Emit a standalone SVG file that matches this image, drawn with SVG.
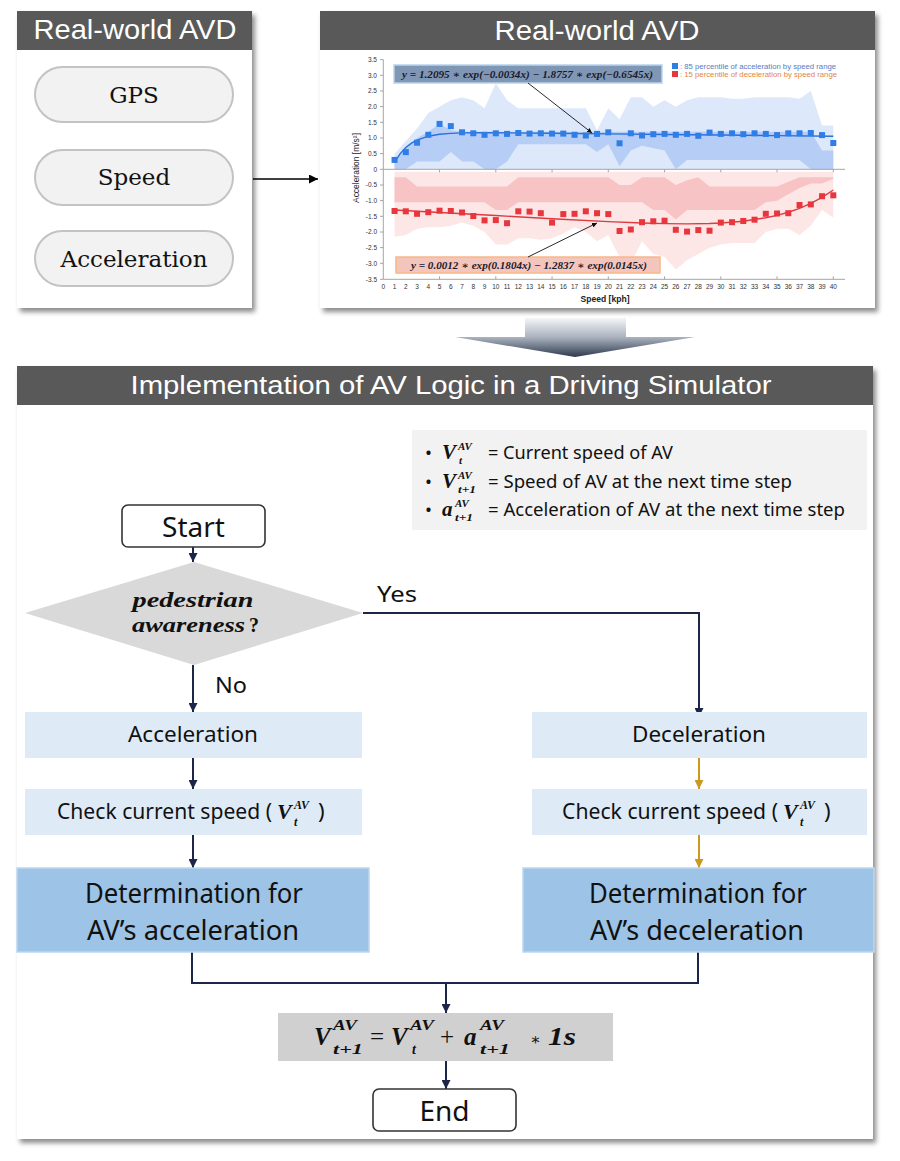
<svg xmlns="http://www.w3.org/2000/svg" width="900" height="1161" viewBox="0 0 900 1161">
<defs>
<filter id="sh" x="-5%" y="-5%" width="112%" height="115%"><feDropShadow dx="3" dy="4" stdDeviation="2.5" flood-color="#000" flood-opacity="0.45"/></filter>
<linearGradient id="bigArrow" x1="0" y1="318" x2="0" y2="357" gradientUnits="userSpaceOnUse"><stop offset="0" stop-color="#f4f5f7"/><stop offset="0.5" stop-color="#a9b1bd"/><stop offset="1" stop-color="#2d394d"/></linearGradient>
<marker id="an" viewBox="0 0 9 9" refX="9" refY="4.5" markerWidth="9" markerHeight="9" orient="auto" markerUnits="userSpaceOnUse"><path d="M0,0 L9,4.5 L0,9 Z" fill="#1c2648"/></marker>
<marker id="ay" viewBox="0 0 9 9" refX="9" refY="4.5" markerWidth="9" markerHeight="9" orient="auto" markerUnits="userSpaceOnUse"><path d="M0,0 L9,4.5 L0,9 Z" fill="#c99a1e"/></marker>
<marker id="ak" viewBox="0 0 9 9" refX="9" refY="4.5" markerWidth="9" markerHeight="9" orient="auto" markerUnits="userSpaceOnUse"><path d="M0,0 L9,4.5 L0,9 Z" fill="#000"/></marker>
<marker id="as" viewBox="0 0 6 6" refX="6" refY="3" markerWidth="5" markerHeight="5" orient="auto" markerUnits="userSpaceOnUse"><path d="M0,0 L6,3 L0,6 Z" fill="#111"/></marker>
<rect id="bq" x="-3" y="-3" width="6" height="6" fill="#2f7de6"/>
<rect id="rq" x="-3" y="-3" width="6" height="6" fill="#e8363f"/>
<style>
.hdr{fill:#595959}
.body{fill:#fff}
.hdrt{font-family:"Liberation Sans","Noto Sans",sans-serif;fill:#fff;font-size:28px;text-anchor:middle}
.pill{fill:#f2f2f2;stroke:#c3c3c3;stroke-width:2}
.pillt{font-family:"DejaVu Serif","Liberation Serif",serif;font-size:23px;fill:#111;text-anchor:middle}
.conn{stroke:#1c2648;stroke-width:2;fill:none}
.conny{stroke:#c99a1e;stroke-width:2;fill:none}
.lb{fill:#deebf7}
.db{fill:#9dc3e6;stroke:#bdd7ee;stroke-width:1.5}
.ft{font-family:"Noto Sans","Open Sans",sans-serif;font-size:22px;fill:#111}
.fb{font-family:"Noto Sans","Open Sans",sans-serif;font-size:27px;fill:#111;text-anchor:middle}
.mi{font-family:"Liberation Serif","DejaVu Serif",serif;font-weight:bold;font-style:italic;fill:#111}
.term{fill:#fff;stroke:#333;stroke-width:1.6}
.ax{stroke:#a6a6a6;stroke-width:1;fill:none}
.tkx{font-family:"Liberation Sans",sans-serif;font-size:6.5px;fill:#333;text-anchor:middle}
.tky{font-family:"Liberation Sans",sans-serif;font-size:6.5px;fill:#333;text-anchor:end}
.eq{font-family:"Liberation Serif","DejaVu Serif",serif;font-weight:bold;font-style:italic;font-size:10px;fill:#1a1a2a}
</style>
</defs>

<rect width="900" height="1161" fill="#fff"/>

<!-- Left panel -->
<g id="panel-left">
<rect x="17" y="11" width="235" height="297" class="body" filter="url(#sh)"/>
<rect x="17" y="11" width="235" height="39" class="hdr"/>
<text x="135" y="39" class="hdrt" textLength="203" lengthAdjust="spacingAndGlyphs">Real-world AVD</text>
</g>
<g id="node-gps"><rect x="35" y="67" width="198" height="55" rx="27.5" class="pill"/><text x="134" y="103" class="pillt">GPS</text></g>
<g id="node-speed"><rect x="35" y="150" width="198" height="55" rx="27.5" class="pill"/><text x="134" y="185" class="pillt">Speed</text></g>
<g id="node-acc"><rect x="35" y="231" width="198" height="55" rx="27.5" class="pill"/><text x="134" y="267" class="pillt">Acceleration</text></g>

<!-- Right panel with chart -->
<g id="panel-chart">
<rect x="320" y="11" width="555" height="297" class="body" filter="url(#sh)"/>
<rect x="320" y="11" width="555" height="39" class="hdr"/>
<text x="597" y="40" class="hdrt" textLength="205" lengthAdjust="spacingAndGlyphs">Real-world AVD</text>

<g transform="matrix(11.25 0 0 -31.33 383.3 169.3)">
<polygon fill="#dde9fb" points="1,0.5 2,0.9 3,1.3 4,1.8 5,2.0 6,2.2 7,2.3 8,2.2 9,1.95 10,2.75 11,2.2 12,1.95 18,1.95 19,1.25 20,1.95 21,1.6 22,2.3 23,2.3 24,2.0 25,2.2 26,2.0 27,2.2 28,2.3 30,2.3 31,2.25 32,2.25 33,2.3 36,2.3 37,2.25 38,2.5 39,1.4 40,1.4 40,0 1,0"/>
<polygon fill="#b6cef6" points="1,0.3 2,0.7 3,1.0 4,1.2 5,1.45 6,1.25 7,1.2 38,1.2 39,0.6 40,0.6 40,0 39,0 38,0 37,0.3 36,0.3 27,0.3 26,0 25,0.6 23,0.75 22,0.6 21,0.1 20,0.8 19,0.55 18,0.8 12,0.8 11,0.25 10,0 9,0 8,0.25 7,0.25 6,0.55 5,0.25 3,0.25 2,0 1,0"/>
<polygon fill="#fde6e6" points="1,-0.08 40,-0.08 40,-1.55 39,-1.3 38,-1.8 37,-2.1 36,-1.9 35,-1.9 34,-2.0 33,-2.35 31,-2.35 30,-2.4 29,-2.5 28,-2.7 27,-2.9 26,-3.2 25,-2.8 24,-2.7 23,-2.3 22,-3.0 21,-2.8 20,-2.1 19,-2.3 18,-2.0 17,-1.85 16,-2.05 15,-2.2 14,-2.25 13,-2.2 12,-2.2 11,-2.4 10,-2.4 9,-2.0 8,-1.8 7,-1.7 6,-1.8 5,-1.85 4,-1.85 3,-1.9 2,-2.1 1,-2.15"/>
<polygon fill="#f7c3c4" points="1,-0.25 2,-0.25 3,-0.55 11,-0.55 12,-0.25 20,-0.25 21,-0.5 22,-0.5 23,-0.25 25,-0.25 26,-0.5 27,-0.35 28,-0.25 29,-0.55 35,-0.55 36,-0.4 37,-0.25 40,-0.25 40,-0.3 39,-0.45 38,-0.45 37,-0.6 36,-0.8 35,-1.0 34,-1.05 33,-1.3 27,-1.3 26,-1.6 25,-1.3 24,-1.3 23,-1.05 12,-1.05 11,-1.3 10,-1.3 9,-1.05 1,-1.05"/>
<polyline fill="none" stroke="#2a6fdc" stroke-width="1.4" vector-effect="non-scaling-stroke" points="1,0.2306 1.5,0.5006 2,0.6947 2.5,0.834 3,0.9339 4,1.0563 5,1.118 6,1.1481 7,1.1618 8,1.1671 10,1.1664 15,1.1494 20,1.1308 25,1.1115 30,1.0931 35,1.0749 40,1.057"/>
<polyline fill="none" stroke="#df3a3f" stroke-width="1.4" vector-effect="non-scaling-stroke" points="1,-1.301 5,-1.3772 10,-1.4767 15,-1.5775 20,-1.6712 23,-1.7158 25,-1.7353 27,-1.7424 29,-1.7302 30,-1.7142 32,-1.656 34,-1.5483 35,-1.4694 36,-1.3699 37,-1.2446 38,-1.0889 39,-0.8964 40,-0.66"/>
</g>

<path class="ax" d="M383.3,59.6 V279.3 H845 M383.3,169.3 H845"/>
<path class="ax" d="M380,59.6 h3.3 M380,75.3 h3.3 M380,91 h3.3 M380,106.6 h3.3 M380,122.3 h3.3 M380,138 h3.3 M380,153.6 h3.3 M380,169.3 h3.3 M380,185 h3.3 M380,200.6 h3.3 M380,216.3 h3.3 M380,232 h3.3 M380,247.6 h3.3 M380,263.3 h3.3 M380,279.3 h3.3 M439.55,169.3 v3 M495.8,169.3 v3 M552.05,169.3 v3 M608.3,169.3 v3 M664.55,169.3 v3 M720.8,169.3 v3 M777.05,169.3 v3 M833.3,169.3 v3 M439.55,279.3 v-3 M495.8,279.3 v-3 M552.05,279.3 v-3 M608.3,279.3 v-3 M664.55,279.3 v-3 M720.8,279.3 v-3 M777.05,279.3 v-3 M833.3,279.3 v-3"/>

<g class="tky">
<text x="377" y="61.9">3.5</text><text x="377" y="77.6">3.0</text><text x="377" y="93.3">2.5</text><text x="377" y="108.9">2.0</text><text x="377" y="124.6">1.5</text><text x="377" y="140.3">1.0</text><text x="377" y="155.9">0.5</text><text x="377" y="171.6">0</text><text x="377" y="187.3">-0.5</text><text x="377" y="202.9">-1.0</text><text x="377" y="218.6">-1.5</text><text x="377" y="234.3">-2.0</text><text x="377" y="249.9">-2.5</text><text x="377" y="265.6">-3.0</text><text x="377" y="281.6">-3.5</text>
</g>
<g class="tkx">
<text x="383.3" y="288.5">0</text><text x="394.55" y="288.5">1</text><text x="405.8" y="288.5">2</text><text x="417.05" y="288.5">3</text><text x="428.3" y="288.5">4</text><text x="439.55" y="288.5">5</text><text x="450.8" y="288.5">6</text><text x="462.05" y="288.5">7</text><text x="473.3" y="288.5">8</text><text x="484.55" y="288.5">9</text><text x="495.8" y="288.5">10</text><text x="507.05" y="288.5">11</text><text x="518.3" y="288.5">12</text><text x="529.55" y="288.5">13</text><text x="540.8" y="288.5">14</text><text x="552.05" y="288.5">15</text><text x="563.3" y="288.5">16</text><text x="574.55" y="288.5">17</text><text x="585.8" y="288.5">18</text><text x="597.05" y="288.5">19</text><text x="608.3" y="288.5">20</text><text x="619.55" y="288.5">21</text><text x="630.8" y="288.5">22</text><text x="642.05" y="288.5">23</text><text x="653.3" y="288.5">24</text><text x="664.55" y="288.5">25</text><text x="675.8" y="288.5">26</text><text x="687.05" y="288.5">27</text><text x="698.3" y="288.5">28</text><text x="709.55" y="288.5">29</text><text x="720.8" y="288.5">30</text><text x="732.05" y="288.5">31</text><text x="743.3" y="288.5">32</text><text x="754.55" y="288.5">33</text><text x="765.8" y="288.5">34</text><text x="777.05" y="288.5">35</text><text x="788.3" y="288.5">36</text><text x="799.55" y="288.5">37</text><text x="810.8" y="288.5">38</text><text x="822.05" y="288.5">39</text><text x="833.3" y="288.5">40</text>
</g>
<text x="605" y="302" font-family="Liberation Sans, sans-serif" font-size="8.5" font-weight="bold" fill="#222" text-anchor="middle" textLength="49" lengthAdjust="spacingAndGlyphs">Speed [kph]</text>
<text transform="translate(359,168) rotate(-90)" font-family="Liberation Sans, sans-serif" font-size="8.5" fill="#222" text-anchor="middle" textLength="70" lengthAdjust="spacingAndGlyphs">Acceleration [m/s²]</text>

<g>
<use href="#bq" x="394.55" y="159.9"/><use href="#bq" x="405.8" y="152.1"/><use href="#bq" x="417.05" y="142.7"/><use href="#bq" x="428.3" y="134.8"/><use href="#bq" x="439.55" y="123.9"/><use href="#bq" x="450.8" y="126.1"/><use href="#bq" x="462.05" y="132.3"/><use href="#bq" x="473.3" y="133.3"/><use href="#bq" x="484.55" y="134.8"/><use href="#bq" x="495.8" y="133.3"/><use href="#bq" x="507.05" y="133.9"/><use href="#bq" x="518.3" y="133"/><use href="#bq" x="529.55" y="133.6"/><use href="#bq" x="540.8" y="133.3"/><use href="#bq" x="552.05" y="133.6"/><use href="#bq" x="563.3" y="133.6"/><use href="#bq" x="574.55" y="134.8"/><use href="#bq" x="585.8" y="135.5"/><use href="#bq" x="597.05" y="133.9"/><use href="#bq" x="608.3" y="132.3"/><use href="#bq" x="619.55" y="143.3"/><use href="#bq" x="630.8" y="133.3"/><use href="#bq" x="642.05" y="135.5"/><use href="#bq" x="653.3" y="134.2"/><use href="#bq" x="664.55" y="133.9"/><use href="#bq" x="675.8" y="134.8"/><use href="#bq" x="687.05" y="133.9"/><use href="#bq" x="698.3" y="135.8"/><use href="#bq" x="709.55" y="132.6"/><use href="#bq" x="720.8" y="133.9"/><use href="#bq" x="732.05" y="133.3"/><use href="#bq" x="743.3" y="134.2"/><use href="#bq" x="754.55" y="133.3"/><use href="#bq" x="765.8" y="133.9"/><use href="#bq" x="777.05" y="135.1"/><use href="#bq" x="788.3" y="133.3"/><use href="#bq" x="799.55" y="133.3"/><use href="#bq" x="810.8" y="133"/><use href="#bq" x="822.05" y="135.1"/><use href="#bq" x="833.3" y="143"/>
<use href="#rq" x="394.55" y="211"/><use href="#rq" x="405.8" y="211.3"/><use href="#rq" x="417.05" y="213.8"/><use href="#rq" x="428.3" y="212.2"/><use href="#rq" x="439.55" y="210.7"/><use href="#rq" x="450.8" y="211"/><use href="#rq" x="462.05" y="212.5"/><use href="#rq" x="473.3" y="216"/><use href="#rq" x="484.55" y="220.4"/><use href="#rq" x="495.8" y="220.1"/><use href="#rq" x="507.05" y="223.2"/><use href="#rq" x="518.3" y="211.3"/><use href="#rq" x="529.55" y="211.6"/><use href="#rq" x="540.8" y="213.2"/><use href="#rq" x="552.05" y="222.6"/><use href="#rq" x="563.3" y="214.1"/><use href="#rq" x="574.55" y="213.8"/><use href="#rq" x="585.8" y="211.3"/><use href="#rq" x="597.05" y="213.2"/><use href="#rq" x="608.3" y="214.1"/><use href="#rq" x="619.55" y="231"/><use href="#rq" x="630.8" y="229.5"/><use href="#rq" x="642.05" y="222.2"/><use href="#rq" x="653.3" y="221.3"/><use href="#rq" x="664.55" y="220.7"/><use href="#rq" x="675.8" y="229.8"/><use href="#rq" x="687.05" y="231.6"/><use href="#rq" x="698.3" y="230.1"/><use href="#rq" x="709.55" y="230.7"/><use href="#rq" x="720.8" y="222.6"/><use href="#rq" x="732.05" y="222.2"/><use href="#rq" x="743.3" y="221"/><use href="#rq" x="754.55" y="219.7"/><use href="#rq" x="765.8" y="213.8"/><use href="#rq" x="777.05" y="213.5"/><use href="#rq" x="788.3" y="213.2"/><use href="#rq" x="799.55" y="205"/><use href="#rq" x="810.8" y="204.4"/><use href="#rq" x="822.05" y="196.2"/><use href="#rq" x="833.3" y="195.3"/>
</g>

<rect x="672" y="63" width="6" height="6" fill="#2f7de6"/>
<text x="680" y="68.5" font-family="Liberation Sans, sans-serif" font-size="6.8" fill="#5b7bbf" textLength="156" lengthAdjust="spacingAndGlyphs">: 85 percentile of acceleration by speed range</text>
<rect x="672" y="71" width="6" height="6" fill="#e8363f"/>
<text x="680" y="76.5" font-family="Liberation Sans, sans-serif" font-size="6.8" fill="#e2844a" textLength="157" lengthAdjust="spacingAndGlyphs">: 15 percentile of deceleration by speed range</text>

<rect x="394" y="65" width="268" height="18" fill="#7f97b5" stroke="#b9d3ee" stroke-width="1.5"/>
<text x="402" y="77.5" class="eq" textLength="251" lengthAdjust="spacingAndGlyphs">y = 1.2095 ∗ exp(−0.0034x) − 1.8757 ∗ exp(−0.6545x)</text>
<rect x="396" y="257" width="264" height="16" fill="#f3c5bd" stroke="#f8b889" stroke-width="1.5"/>
<text x="411" y="268.5" class="eq" textLength="236" lengthAdjust="spacingAndGlyphs">y = 0.0012 ∗ exp(0.1804x) − 1.2837 ∗ exp(0.0145x)</text>
<line x1="528" y1="83" x2="592" y2="133" stroke="#111" stroke-width="0.9" marker-end="url(#as)"/>
<line x1="528" y1="257" x2="597" y2="223" stroke="#111" stroke-width="0.9" marker-end="url(#as)"/>
</g>

<!-- big transition arrow -->
<path d="M525,318 H626 V337 H695 L575,357 L455,337 H525 Z" fill="url(#bigArrow)"/>

<!-- Bottom panel -->
<g id="panel-sim">
<rect x="17" y="366" width="856" height="773" class="body" filter="url(#sh)"/>
<rect x="17" y="366" width="856" height="39" class="hdr"/>
<text x="451" y="394" class="hdrt" style="font-size:26px" textLength="641" lengthAdjust="spacingAndGlyphs">Implementation of AV Logic in a Driving Simulator</text>
</g>

<!-- definitions legend -->
<g id="defs-box">
<rect x="412" y="430" width="455" height="100" fill="#f2f2f2"/>
<text x="425" y="459" class="ft" style="font-size:18.5px">•</text>
<text x="425" y="488" class="ft" style="font-size:18.5px">•</text>
<text x="425" y="516" class="ft" style="font-size:18.5px">•</text>
<text x="488" y="459" class="ft" style="font-size:18.5px" textLength="185" lengthAdjust="spacingAndGlyphs">= Current speed of AV</text>
<text x="488" y="488" class="ft" style="font-size:18.5px" textLength="304" lengthAdjust="spacingAndGlyphs">= Speed of AV at the next time step</text>
<text x="488" y="516" class="ft" style="font-size:18.5px" textLength="357" lengthAdjust="spacingAndGlyphs">= Acceleration of AV at the next time step</text>
<text x="442" y="459" class="mi" font-size="21">V</text>
<text x="458" y="450" class="mi" font-size="11">AV</text>
<text x="459" y="464" class="mi" font-size="11">t</text>
<text x="442" y="488" class="mi" font-size="21">V</text>
<text x="458" y="479" class="mi" font-size="11">AV</text>
<text x="458" y="493" class="mi" font-size="11" textLength="18" lengthAdjust="spacingAndGlyphs">t+1</text>
<text x="442" y="516" class="mi" font-size="21">a</text>
<text x="455" y="507" class="mi" font-size="11">AV</text>
<text x="455" y="521" class="mi" font-size="11" textLength="18" lengthAdjust="spacingAndGlyphs">t+1</text>
</g>

<!-- connectors -->
<g id="connectors">
<line x1="253" y1="179" x2="318" y2="179" stroke="#000" stroke-width="1.5" marker-end="url(#ak)"/>
<line class="conn" x1="193" y1="547" x2="193" y2="562" marker-end="url(#an)"/>
<line class="conn" x1="193" y1="665" x2="193" y2="712" marker-end="url(#an)"/>
<path class="conn" d="M363,613 H699 V717" marker-end="url(#an)"/>
<line class="conn" x1="193" y1="758" x2="193" y2="789" marker-end="url(#an)"/>
<line class="conn" x1="193" y1="835" x2="193" y2="868" marker-end="url(#an)"/>
<line class="conny" x1="699" y1="758" x2="699" y2="789" marker-end="url(#ay)"/>
<line class="conny" x1="699" y1="835" x2="699" y2="868" marker-end="url(#ay)"/>
<path class="conn" d="M192,952 V983 H698 V952"/>
<line class="conn" x1="446" y1="983" x2="446" y2="1013" marker-end="url(#an)"/>
<line class="conn" x1="446" y1="1061" x2="446" y2="1089" marker-end="url(#an)"/>
<text x="377" y="602" class="ft" textLength="40" lengthAdjust="spacingAndGlyphs">Yes</text>
<text x="215" y="693" class="ft" textLength="32" lengthAdjust="spacingAndGlyphs">No</text>
</g>

<!-- flow nodes -->
<g id="node-start"><rect x="122" y="505" width="143" height="42" rx="6" class="term"/><text x="193.5" y="537" class="ft" style="font-size:28px" text-anchor="middle">Start</text></g>

<g id="node-decision">
<polygon points="194,562 363,613 194,665 25,613" fill="#d9d9d9"/>
<text x="193" y="607" class="mi" font-size="20" text-anchor="middle" textLength="121" lengthAdjust="spacingAndGlyphs">pedestrian</text>
<text x="132" y="632" class="mi" font-size="20" textLength="113" lengthAdjust="spacingAndGlyphs">awareness</text>
<text x="249" y="632" font-family="Liberation Serif, serif" font-size="20" font-weight="bold" fill="#111">?</text>
</g>

<g id="node-accel"><rect x="25" y="712" width="337" height="46" class="lb"/><text x="193" y="742" class="ft" text-anchor="middle" textLength="130" lengthAdjust="spacingAndGlyphs">Acceleration</text></g>
<g id="node-check-acc"><rect x="25" y="789" width="337" height="46" class="lb"/>
<text x="57" y="819" class="ft" style="font-size:21px" textLength="215" lengthAdjust="spacingAndGlyphs">Check current speed (</text>
<text x="277" y="819" class="mi" font-size="22">V</text>
<text x="294" y="809" class="mi" font-size="12">AV</text>
<text x="294" y="826" class="mi" font-size="12">t</text>
<text x="318" y="819" class="ft">)</text>
</g>
<g id="node-det-acc"><rect x="17" y="868" width="352" height="84" class="db"/>
<text x="194" y="903" class="fb" textLength="218" lengthAdjust="spacingAndGlyphs">Determination for</text>
<text x="193" y="940" class="fb" textLength="212" lengthAdjust="spacingAndGlyphs">AV’s acceleration</text>
</g>

<g id="node-decel"><rect x="532" y="712" width="335" height="46" class="lb"/><text x="699" y="742" class="ft" text-anchor="middle" textLength="134" lengthAdjust="spacingAndGlyphs">Deceleration</text></g>
<g id="node-check-dec"><rect x="532" y="789" width="335" height="46" class="lb"/>
<text x="562" y="819" class="ft" style="font-size:21px" textLength="216" lengthAdjust="spacingAndGlyphs">Check current speed (</text>
<text x="783" y="819" class="mi" font-size="22">V</text>
<text x="800" y="809" class="mi" font-size="12">AV</text>
<text x="800" y="826" class="mi" font-size="12">t</text>
<text x="824" y="819" class="ft">)</text>
</g>
<g id="node-det-dec"><rect x="523" y="868" width="351" height="84" class="db"/>
<text x="698" y="903" class="fb" textLength="218" lengthAdjust="spacingAndGlyphs">Determination for</text>
<text x="697" y="940" class="fb" textLength="214" lengthAdjust="spacingAndGlyphs">AV’s deceleration</text>
</g>

<g id="node-formula"><rect x="278" y="1013" width="335" height="48" fill="#d0d0d0"/>
<text x="314" y="1045" class="mi" font-size="25">V</text>
<text x="333" y="1030" class="mi" font-size="14" textLength="24" lengthAdjust="spacingAndGlyphs">AV</text>
<text x="333" y="1054" class="mi" font-size="14" textLength="30" lengthAdjust="spacingAndGlyphs">t+1</text>
<text x="370" y="1045" font-family="Liberation Serif, serif" font-size="25" fill="#111">=</text>
<text x="391" y="1045" class="mi" font-size="25">V</text>
<text x="410" y="1030" class="mi" font-size="14" textLength="24" lengthAdjust="spacingAndGlyphs">AV</text>
<text x="412" y="1054" class="mi" font-size="14">t</text>
<text x="440" y="1045" font-family="Liberation Serif, serif" font-size="25" fill="#111">+</text>
<text x="464" y="1045" class="mi" font-size="25">a</text>
<text x="480" y="1030" class="mi" font-size="14" textLength="24" lengthAdjust="spacingAndGlyphs">AV</text>
<text x="480" y="1054" class="mi" font-size="14" textLength="30" lengthAdjust="spacingAndGlyphs">t+1</text>
<text x="530" y="1045" font-family="DejaVu Serif, serif" font-size="16" fill="#111">∗</text>
<text x="548" y="1045" class="mi" font-size="25" textLength="28" lengthAdjust="spacingAndGlyphs">1s</text>
</g>

<g id="node-end"><rect x="373" y="1089" width="143" height="42" rx="6" class="term"/><text x="444.5" y="1121" class="ft" style="font-size:28px" text-anchor="middle">End</text></g>
</svg>
